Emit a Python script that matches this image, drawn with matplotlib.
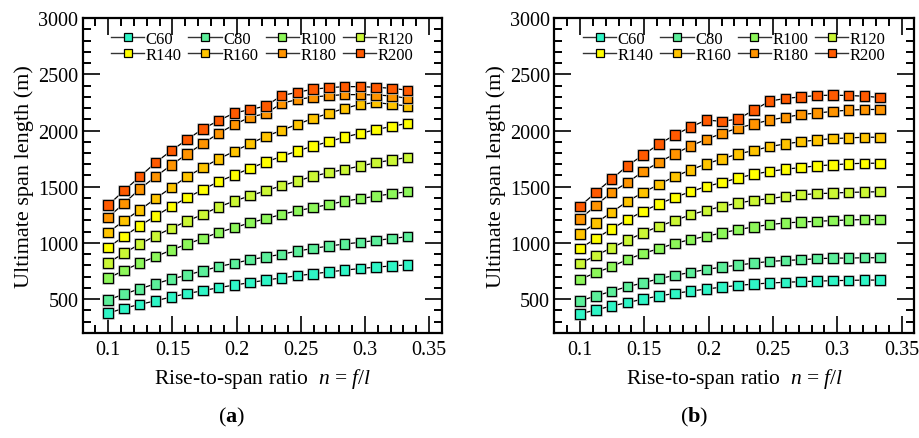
#!/usr/bin/env python3
"""Ultimate span length vs rise-to-span ratio, two cases (a) and (b)."""
import numpy as np
import matplotlib
matplotlib.use("Agg")
import matplotlib.pyplot as plt
import matplotlib.patheffects as pe
from matplotlib.lines import Line2D
from matplotlib.ticker import MultipleLocator

plt.rcParams["font.family"] = ["Liberation Serif", "DejaVu Serif"]
plt.rcParams["mathtext.fontset"] = "custom"
plt.rcParams["mathtext.rm"] = "Liberation Serif"
plt.rcParams["mathtext.it"] = "Liberation Serif:italic"
plt.rcParams["mathtext.bf"] = "Liberation Serif:bold"

# rise-to-span ratio, 20 points from 1/10 to 1/3
n_ratio = np.linspace(0.1, 1 / 3, 20)

labels = ["C60", "C80", "R100", "R120", "R140", "R160", "R180", "R200"]
colors = ["#2ff5c6", "#5cef9a", "#8df75a", "#cbf735", "#ffff00", "#ffc400", "#ff9400", "#ff5a00"]

# panel (a)
a_C60 = [376, 420, 454, 486, 520, 550, 576, 603, 626, 648, 670, 690, 709, 726, 743, 759, 773, 786, 796, 806]
a_C80 = [495, 545, 593, 637, 679, 715, 753, 790, 820, 851, 876, 900, 928, 952, 973, 991, 1006, 1023, 1040, 1056]
a_R100 = [688, 756, 821, 878, 937, 990, 1041, 1094, 1136, 1180, 1216, 1254, 1287, 1314, 1343, 1372, 1394, 1417, 1438, 1456]
a_R120 = [824, 910, 990, 1064, 1130, 1195, 1254, 1320, 1373, 1420, 1465, 1509, 1550, 1595, 1625, 1655, 1684, 1714, 1738, 1761]
a_R140 = [961, 1059, 1153, 1240, 1323, 1403, 1474, 1546, 1604, 1664, 1720, 1770, 1818, 1862, 1901, 1942, 1975, 2008, 2037, 2064]
a_R160 = [1094, 1198, 1293, 1395, 1492, 1589, 1670, 1747, 1815, 1883, 1948, 2002, 2055, 2108, 2153, 2197, 2233, 2248, 2233, 2218]
a_R180 = [1228, 1352, 1480, 1589, 1693, 1791, 1883, 1975, 2052, 2120, 2150, 2242, 2275, 2298, 2310, 2319, 2319, 2316, 2307, 2286]
a_R200 = [1337, 1465, 1589, 1714, 1821, 1919, 2014, 2088, 2156, 2186, 2218, 2310, 2340, 2367, 2381, 2390, 2390, 2384, 2375, 2358]

# panel (b)
b_C60 = [370, 405, 440, 470, 502, 529, 552, 572, 591, 608, 623, 635, 644, 651, 656, 661, 665, 668, 670, 671]
b_C80 = [485, 529, 571, 612, 645, 683, 712, 739, 765, 786, 804, 821, 836, 845, 851, 860, 866, 866, 869, 869]
b_R100 = [677, 736, 789, 854, 907, 951, 996, 1031, 1060, 1090, 1119, 1143, 1164, 1178, 1187, 1193, 1199, 1205, 1208, 1208]
b_R120 = [816, 889, 957, 1025, 1090, 1149, 1199, 1252, 1290, 1326, 1355, 1379, 1394, 1414, 1429, 1438, 1444, 1450, 1453, 1456]
b_R140 = [951, 1040, 1125, 1208, 1282, 1347, 1406, 1456, 1503, 1538, 1577, 1612, 1636, 1656, 1671, 1686, 1695, 1704, 1709, 1709]
b_R160 = [1081, 1178, 1273, 1370, 1450, 1521, 1591, 1650, 1704, 1748, 1792, 1822, 1857, 1881, 1901, 1916, 1928, 1934, 1940, 1940]
b_R180 = [1214, 1332, 1450, 1538, 1636, 1718, 1792, 1863, 1922, 1975, 2022, 2058, 2093, 2117, 2143, 2155, 2170, 2181, 2187, 2187]
b_R200 = [1326, 1450, 1568, 1686, 1783, 1880, 1960, 2031, 2093, 2081, 2102, 2181, 2261, 2285, 2299, 2311, 2314, 2311, 2305, 2293]

panel_a = [a_C60, a_C80, a_R100, a_R120, a_R140, a_R160, a_R180, a_R200]
panel_b = [b_C60, b_C80, b_R100, b_R120, b_R140, b_R160, b_R180, b_R200]

halo = [pe.withStroke(linewidth=1.8, foreground="#c4c4c4")]


def draw_panel(ax, series):
    handles = []
    for vals, lab, col in zip(series, labels, colors):
        ax.plot(n_ratio, vals, color="k", lw=0.9, zorder=2)
        ax.plot(n_ratio, vals, ls="none", marker="s", ms=6.8, mfc=col, mec="k", mew=0.9,
                zorder=3, path_effects=halo)
        handles.append(Line2D([], [], color="#333333", lw=1.0, marker="s", ms=6.4,
                              mfc=col, mec="k", mew=0.9, label=lab))
    ax.set_xlim(0.08, 0.36)
    ax.set_ylim(200, 3000)
    ax.xaxis.set_minor_locator(MultipleLocator(0.01))
    ax.yaxis.set_major_locator(MultipleLocator(500))
    ax.yaxis.set_minor_locator(MultipleLocator(100))
    ax.set_xticks([0.1, 0.15, 0.2, 0.25, 0.3, 0.35])
    ax.set_xticklabels(["0.1", "0.15", "0.2", "0.25", "0.3", "0.35"])
    ax.tick_params(which="both", direction="in", top=True, right=True, labelsize=14.5, width=1.2)
    ax.tick_params(which="major", length=12)
    ax.tick_params(axis="y", which="major", pad=3)
    ax.tick_params(axis="x", which="major", pad=5)
    ax.tick_params(which="minor", length=6, width=1.4)
    for s in ax.spines.values():
        s.set_linewidth(1.6)
    ax.set_xlabel(r"Rise-to-span ratio  $n$ = $f$/$l$", fontsize=15.5, labelpad=5)
    ax.set_ylabel("Ultimate span length (m)", fontsize=16, labelpad=3)
    # legend fills row by row: C60 C80 R100 R120 / R140 R160 R180 R200
    order = [0, 4, 1, 5, 2, 6, 3, 7]
    ax.legend([handles[i] for i in order], [labels[i] for i in order],
              loc="upper center", bbox_to_anchor=(0.5, 0.99), ncol=4, frameon=False,
              fontsize=12, handlelength=2.0, handletextpad=0.08, columnspacing=0.4,
              labelspacing=0.0, borderaxespad=0.2)


fig = plt.figure(figsize=(9.2, 4.39), dpi=100)
ax_a = fig.add_axes([0.0897, 0.2392, 0.3907, 0.7175])
ax_b = fig.add_axes([0.6025, 0.2392, 0.3915, 0.7175])
draw_panel(ax_a, panel_a)
draw_panel(ax_b, panel_b)
fig.text(0.252, 0.048, r"($\mathbf{a}$)", ha="center", va="center", fontsize=16)
fig.text(0.755, 0.048, r"($\mathbf{b}$)", ha="center", va="center", fontsize=16)
fig.savefig("out.png", dpi=100)
